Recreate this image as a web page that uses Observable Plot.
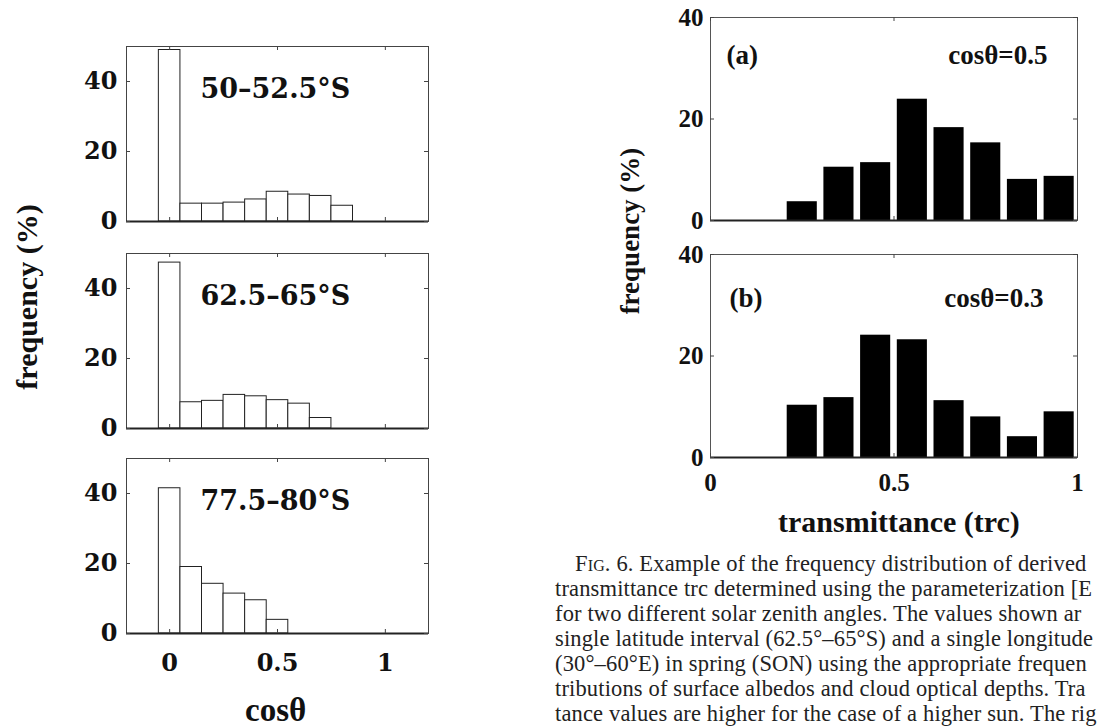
<!DOCTYPE html>
<html><head><meta charset="utf-8">
<script src="https://cdn.jsdelivr.net/npm/d3@7"></script>
<script src="https://cdn.jsdelivr.net/npm/@observablehq/plot@0.6"></script>
<style>
html,body{margin:0;padding:0;background:#fff;overflow:hidden;}
#root{position:relative;width:1099px;height:727px;overflow:hidden;background:#fff;}
.p{position:absolute;}
.lab{position:absolute;white-space:nowrap;color:#111;font-family:"Liberation Serif",serif;font-weight:bold;line-height:1;}
.rot{transform:translate(-50%,-50%) rotate(-90deg);}
#cap{position:absolute;left:555px;top:551px;font-family:"Liberation Serif",serif;font-size:22.5px;letter-spacing:0.15px;line-height:25px;color:#222;white-space:nowrap;}
.sc{font-variant:small-caps;}
</style></head><body><div id="root"></div>
<script>
// ---- left figure: frequency of cos(theta) ----
const cosBins = [0, 0.1, 0.2, 0.3, 0.4, 0.5, 0.6, 0.7, 0.8];
const cosBinWidth = 0.1;
const lat1Label = "50–52.5°S";
const lat1Freq = [49.0, 5.1, 5.1, 5.4, 6.3, 8.5, 7.7, 7.3, 4.5];
const lat2Label = "62.5–65°S";
const lat2Freq = [47.4, 7.5, 7.9, 9.6, 9.2, 8.1, 7.1, 3.0];
const lat3Label = "77.5–80°S";
const lat3Freq = [41.5, 19.0, 14.2, 11.4, 9.5, 3.9];
const cosTicks = [0, 0.5, 1];
const freqTicksLeft = [0, 20, 40];

// ---- right figure: frequency of transmittance ----
const trcBinStart = [0.2, 0.3, 0.4, 0.5, 0.6, 0.7, 0.8, 0.9];
const trcBinWidth = 0.1;
const trcFreqA = [3.7, 10.5, 11.4, 23.9, 18.3, 15.3, 8.1, 8.7];
const trcFreqB = [10.3, 11.8, 24.1, 23.2, 11.2, 8.0, 4.1, 9.0];
const panelA = ["(a)", "cosθ=0.5"];
const panelB = ["(b)", "cosθ=0.3"];
const trcTicks = [0, 0.5, 1];
const freqTicksRight = [0, 20, 40];

// caption text as visible in the (cropped) reference
const captionLines = [
  ["Fig", ". 6. Example of the frequency distribution of derived"],
  ["", "transmittance trc determined using the parameterization [E"],
  ["", "for two different solar zenith angles. The values shown ar"],
  ["", "single latitude interval (62.5°–65°S) and a single longitude"],
  ["", "(30°–60°E) in spring (SON) using the appropriate frequen"],
  ["", "tributions of surface albedos and cloud optical depths. Tra"],
  ["", "tance values are higher for the case of a higher sun. The rig"]
];

const root = document.getElementById("root");
function place(node, left, top) {
  const d = document.createElement("div");
  d.className = "p"; d.style.left = left + "px"; d.style.top = top + "px";
  d.appendChild(node); root.appendChild(d);
}
function label(text, cls, css) {
  const d = document.createElement("div");
  d.className = "lab " + (cls || ""); d.textContent = text;
  Object.assign(d.style, css); root.appendChild(d);
}
const fmt = d => String(d);

function leftPlot(freq, lab, showX) {
  const data = freq.map((v, i) => ({x: cosBins[i], v}));
  const W = 440, mL = 126, mR = 12, mT = 16, fh = 175, mB = showX ? 50 : 10;
  const fw = W - mL - mR;
  return Plot.plot({
    width: W, height: mT + fh + mB,
    marginLeft: mL, marginRight: mR, marginTop: mT, marginBottom: mB,
    style: {fontFamily: "DejaVu Serif", fontWeight: "bold", fontSize: "24px", color: "#111", background: "transparent", overflow: "visible"},
    x: {domain: [-0.2, 1.2], axis: showX ? "bottom" : null, ticks: cosTicks, tickFormat: fmt, tickSize: 0, tickPadding: 20, label: null},
    y: {domain: [0, 50], ticks: freqTicksLeft, tickFormat: fmt, tickSize: 0, tickPadding: 9, label: null},
    marks: [
      Plot.rectY(data, {x1: d => d.x - cosBinWidth / 2, x2: d => d.x + cosBinWidth / 2, y: "v", fill: "white", stroke: "#222", strokeWidth: 1}),
      Plot.frame({stroke: "#444", strokeWidth: 1}),
      Plot.ruleY([0], {stroke: "#222", strokeWidth: 2}),
      Plot.tickY(freqTicksLeft, {y: d => d, insetRight: fw - 4, stroke: "#444"}),
      Plot.tickY(freqTicksLeft, {y: d => d, insetLeft: fw - 4, stroke: "#444"}),
      Plot.tickX(cosTicks, {x: d => d, insetBottom: fh - 4, stroke: "#444"}),
      Plot.tickX(cosTicks, {x: d => d, insetTop: fh - 4, stroke: "#444"}),
      Plot.text([lab], {frameAnchor: "top-left", dx: 74, dy: 51, lineAnchor: "bottom", textAnchor: "start", fontSize: 27, fontWeight: "bold", fill: "#111"})
    ]
  });
}

function rightPlot(freq, labs, showX, labDy, labA, labB) {
  const data = freq.map((v, i) => ({x1: trcBinStart[i], x2: trcBinStart[i] + trcBinWidth, v}));
  const W = 539, mL = 150, mR = 22, mT = 17, fh = 203, mB = showX ? 40 : 8;
  const fw = W - mL - mR;
  return Plot.plot({
    width: W, height: mT + fh + mB,
    marginLeft: mL, marginRight: mR, marginTop: mT, marginBottom: mB,
    style: {fontFamily: "Liberation Serif", fontWeight: "bold", fontSize: "25px", color: "#111", background: "transparent", overflow: "visible"},
    x: {domain: [0, 1], axis: showX ? "bottom" : null, ticks: trcTicks, tickFormat: fmt, tickSize: 0, tickPadding: 16, label: null},
    y: {domain: [0, 40], ticks: freqTicksRight, tickFormat: fmt, tickSize: 0, tickPadding: 7, label: null},
    marks: [
      Plot.rectY(data, {x1: "x1", x2: "x2", y: "v", fill: "black", insetLeft: 3.3, insetRight: 3.3}),
      Plot.frame({stroke: "#555", strokeWidth: 1}),
      Plot.ruleY([0], {stroke: "#222", strokeWidth: 2}),
      Plot.tickY(freqTicksRight, {y: d => d, insetRight: fw - 4, stroke: "#444"}),
      Plot.tickY(freqTicksRight, {y: d => d, insetLeft: fw - 4, stroke: "#444"}),
      Plot.tickX(trcTicks, {x: d => d, insetBottom: fh - 4, stroke: "#444"}),
      Plot.tickX(trcTicks, {x: d => d, insetTop: fh - 4, stroke: "#444"}),
      Plot.text([labs[0]], {frameAnchor: "top-left", dx: labA, dy: labDy, lineAnchor: "bottom", textAnchor: "start", fontSize: 27, fontWeight: "bold", fill: "#111"}),
      Plot.text([labs[1]], {frameAnchor: "top-right", dx: -labB, dy: labDy, lineAnchor: "bottom", textAnchor: "end", fontSize: 27, fontWeight: "bold", fill: "#111"})
    ]
  });
}

place(leftPlot(lat1Freq, lat1Label, false), 0, 30);
place(leftPlot(lat2Freq, lat2Label, false), 0, 237);
place(leftPlot(lat3Freq, lat3Label, true), 0, 442);
place(rightPlot(trcFreqA, panelA, false, 46, 16, 30), 560, 0);
place(rightPlot(trcFreqB, panelB, true, 52, 19, 34), 560, 237);

label("frequency (%)", "rot", {left: "27px", top: "297px", fontSize: "30px"});
label("cosθ", "", {left: "245px", top: "694px", fontSize: "33px"});
label("frequency (%)", "rot", {left: "630px", top: "231px", fontSize: "27px"});
label("transmittance (trc)", "", {left: "778px", top: "507px", fontSize: "30px"});

const cap = document.createElement("div");
cap.id = "cap";
captionLines.forEach((ln, i) => {
  const line = document.createElement("div");
  if (i === 0) line.style.paddingLeft = "20px";
  if (ln[0]) { const s = document.createElement("span"); s.className = "sc"; s.textContent = ln[0]; line.appendChild(s); }
  line.appendChild(document.createTextNode(ln[1]));
  cap.appendChild(line);
});
root.appendChild(cap);
</script>
</body></html>
